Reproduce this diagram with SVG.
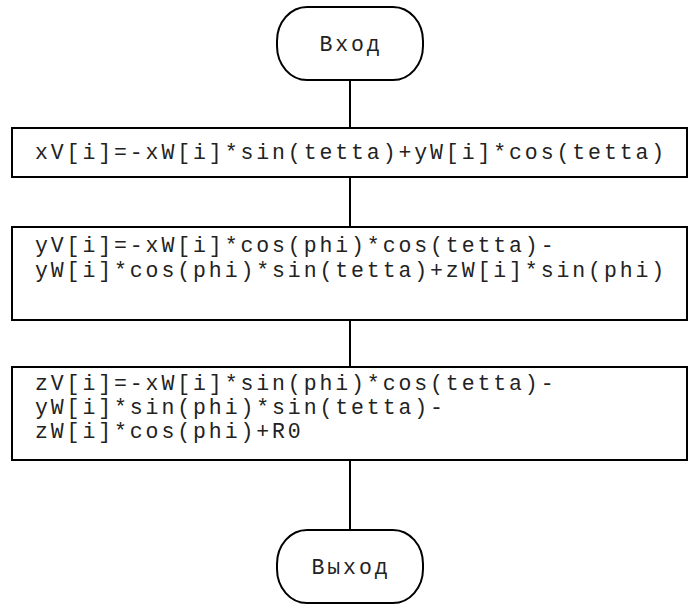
<svg xmlns="http://www.w3.org/2000/svg" width="699" height="608" viewBox="0 0 699 608">
  <style>
    .shape { fill: #ffffff; stroke: #000000; stroke-width: 2; }
    .link { fill: none; stroke: #000000; stroke-width: 2; }
    .code { font-family: "Liberation Mono", "Courier New", monospace; font-size: 21.5px; letter-spacing: 2.9px; fill: #222222; }
    .mid { text-anchor: middle; }
  </style>
  <rect width="699" height="608" fill="#ffffff"/>

  <!-- connectors between consecutive blocks -->
  <g id="connectors">
    <line class="link" x1="350" y1="80" x2="350" y2="128"/>
    <line class="link" x1="350" y1="177" x2="350" y2="227"/>
    <line class="link" x1="350" y1="320" x2="350" y2="367"/>
    <line class="link" x1="350" y1="460" x2="350" y2="530"/>
  </g>

  <g id="start">
    <rect class="shape" x="277" y="7" width="146" height="73" rx="30" ry="34"/>
    <text class="code mid" x="351" y="51">Вход</text>
  </g>

  <g id="calc-xV">
    <rect class="shape" x="12" y="128" width="675" height="49"/>
    <text class="code" x="35" y="159">xV[i]=-xW[i]*sin(tetta)+yW[i]*cos(tetta)</text>
  </g>

  <g id="calc-yV">
    <rect class="shape" x="12" y="227" width="675" height="93"/>
    <text class="code" x="35" y="252">yV[i]=-xW[i]*cos(phi)*cos(tetta)-</text>
    <text class="code" x="35" y="277">yW[i]*cos(phi)*sin(tetta)+zW[i]*sin(phi)</text>
  </g>

  <g id="calc-zV">
    <rect class="shape" x="12" y="367" width="675" height="93"/>
    <text class="code" x="35" y="390">zV[i]=-xW[i]*sin(phi)*cos(tetta)-</text>
    <text class="code" x="35" y="414">yW[i]*sin(phi)*sin(tetta)-</text>
    <text class="code" x="35" y="438">zW[i]*cos(phi)+R0</text>
  </g>

  <g id="end">
    <rect class="shape" x="277" y="530" width="146" height="73" rx="30" ry="34"/>
    <text class="code mid" x="351" y="574">Выход</text>
  </g>
</svg>
